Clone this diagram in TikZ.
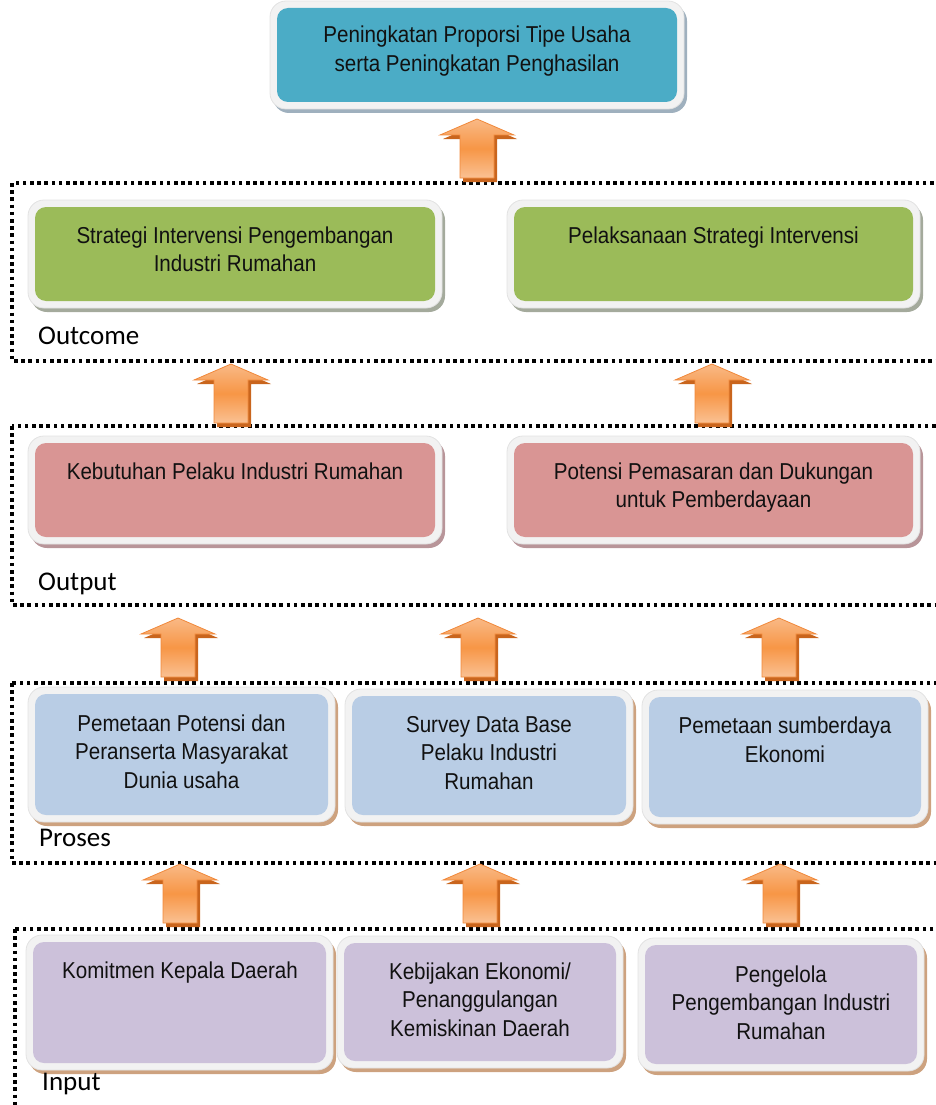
\documentclass[tikz,border=0pt]{standalone}
\usepackage{fontspec}
\setmainfont{Liberation Sans}[FakeStretch=0.895]
\newfontfamily\lblfont{Carlito}
\definecolor{tealfill}{HTML}{4BACC6}
\definecolor{greenfill}{HTML}{9BBB59}
\definecolor{pinkfill}{HTML}{D99594}
\definecolor{bluefill}{HTML}{B9CDE5}
\definecolor{purplefill}{HTML}{CCC1DA}
\definecolor{shadowblue}{HTML}{9FB0BE}
\definecolor{shadowgreen}{HTML}{A4AA9C}
\definecolor{shadowpink}{HTML}{B89599}
\definecolor{shadowtan}{HTML}{CDA27F}
\definecolor{rim}{HTML}{F2F2F2}
\definecolor{rimedge}{HTML}{E2E2E2}
\definecolor{textcol}{HTML}{111111}
\definecolor{arrlight}{HTML}{F9B986}
\definecolor{arrmid}{HTML}{F79646}
\definecolor{arrlow}{HTML}{FAC193}
\definecolor{arredge}{HTML}{F0883A}
\definecolor{arrshadow}{HTML}{C9651D}
\newcommand\drawpanel[7]{%
  \fill[#7, rounded corners=16] ({#2-4},{#3-3}) rectangle ({#4+10},{#5+11});
  \filldraw[fill=rim, draw=rimedge, line width=0.8pt, rounded corners=16] ({#2-7},{#3-7}) rectangle ({#4+7},{#5+7});
  \fill[#6, rounded corners=11] (#2,#3) rectangle (#4,#5);
  \coordinate (#1) at ({(#2+#4)/2},{(#3+#5)/2});
}
\tikzset{
  txt/.style={font=\fontsize{23}{28.5}\selectfont, align=center, inner sep=0pt, text=textcol, anchor=base},
  lbl/.style={font=\lblfont\fontsize{27}{32}\selectfont, inner sep=0pt, text=black, anchor=base west},
  frame/.style={draw=black, line width=3.3pt, dash pattern=on 3.6pt off 3.6pt},
  blockarrow/.pic={
    \fill[arrshadow] (3,4) -- (40,20) -- (20,20) -- (20,63) -- (-14,63) -- (-14,20) -- (-34,20) -- cycle;
    \draw[draw=arredge, line width=0.8pt, top color=arrlight, bottom color=arrlow, middle color=arrmid]
      (0,0) -- (37,16) -- (17,16) -- (17,59) -- (-17,59) -- (-17,16) -- (-37,16) -- cycle;
  }
}
\begin{document}
\begin{tikzpicture}[x=1pt,y=-1pt]
\useasboundingbox (0,0) rectangle (936,1105);
\clip (0,0) rectangle (936,1105);
% frames
\draw[frame] (12,183) rectangle (950,361);
\draw[frame] (12,426) rectangle (950,605);
\draw[frame] (12,683) rectangle (950,863);
\draw[frame] (15,929) rectangle (950,1130);
% arrows
\pic (a0) at (477,119) {blockarrow};
\pic (a1) at (231,364) {blockarrow};
\pic (a2) at (712,364) {blockarrow};
\pic (a3) at (178,618) {blockarrow};
\pic (a4) at (478,618) {blockarrow};
\pic (a5) at (779,618) {blockarrow};
\pic (a6) at (180,864) {blockarrow};
\pic (a7) at (480,864) {blockarrow};
\pic (a8) at (780,864) {blockarrow};
% panels
\drawpanel{top}{277}{8}{677}{102}{tealfill}{shadowblue}
\drawpanel{oc1}{35}{207}{435}{301}{greenfill}{shadowgreen}
\drawpanel{oc2}{514}{207}{913}{301}{greenfill}{shadowgreen}
\drawpanel{op1}{35}{443}{435}{537}{pinkfill}{shadowpink}
\drawpanel{op2}{514}{443}{913}{537}{pinkfill}{shadowpink}
\drawpanel{pr1}{35}{694}{328}{815}{bluefill}{shadowtan}
\drawpanel{pr2}{352}{696}{626}{815}{bluefill}{shadowtan}
\drawpanel{pr3}{649}{697}{921}{817}{bluefill}{shadowtan}
\drawpanel{in1}{33}{942}{326}{1063}{purplefill}{shadowtan}
\drawpanel{in2}{344}{943}{616}{1061}{purplefill}{shadowtan}
\drawpanel{in3}{645}{945}{917}{1064}{purplefill}{shadowtan}
% texts (base anchor = baseline of last line)
\node[txt] (ttop) at (477,71.5) {Peningkatan Proporsi Tipe Usaha\\serta Peningkatan Penghasilan};
\node[txt] (toc1) at (235,271.5) {Strategi Intervensi Pengembangan\\Industri Rumahan};
\node[txt] (toc2) at (713.5,243) {Pelaksanaan Strategi Intervensi};
\node[txt] (top1) at (235,479) {Kebutuhan Pelaku Industri Rumahan};
\node[txt] (top2) at (713.5,507.5) {Potensi Pemasaran dan Dukungan\\untuk Pemberdayaan};
\node[txt] (tpr1) at (181.5,788) {Pemetaan Potensi dan\\Peranserta Masyarakat\\Dunia usaha};
\node[txt] (tpr2) at (489,789) {Survey Data Base\\Pelaku Industri\\Rumahan};
\node[txt] (tpr3) at (785,762) {Pemetaan sumberdaya\\Ekonomi};
\node[txt] (tin1) at (180,978) {Komitmen Kepala Daerah};
\node[txt] (tin2) at (480,1036) {Kebijakan Ekonomi/\\Penanggulangan\\Kemiskinan Daerah};
\node[txt] (tin3) at (781,1039) {Pengelola\\Pengembangan Industri\\Rumahan};
% labels
\node[lbl] (lout) at (38,344) {Outcome};
\node[lbl] (loutp) at (38,590) {Output};
\node[lbl] (lpro) at (39,846) {Proses};
\node[lbl] (linp) at (42,1090) {Input};
\end{tikzpicture}
\end{document}
